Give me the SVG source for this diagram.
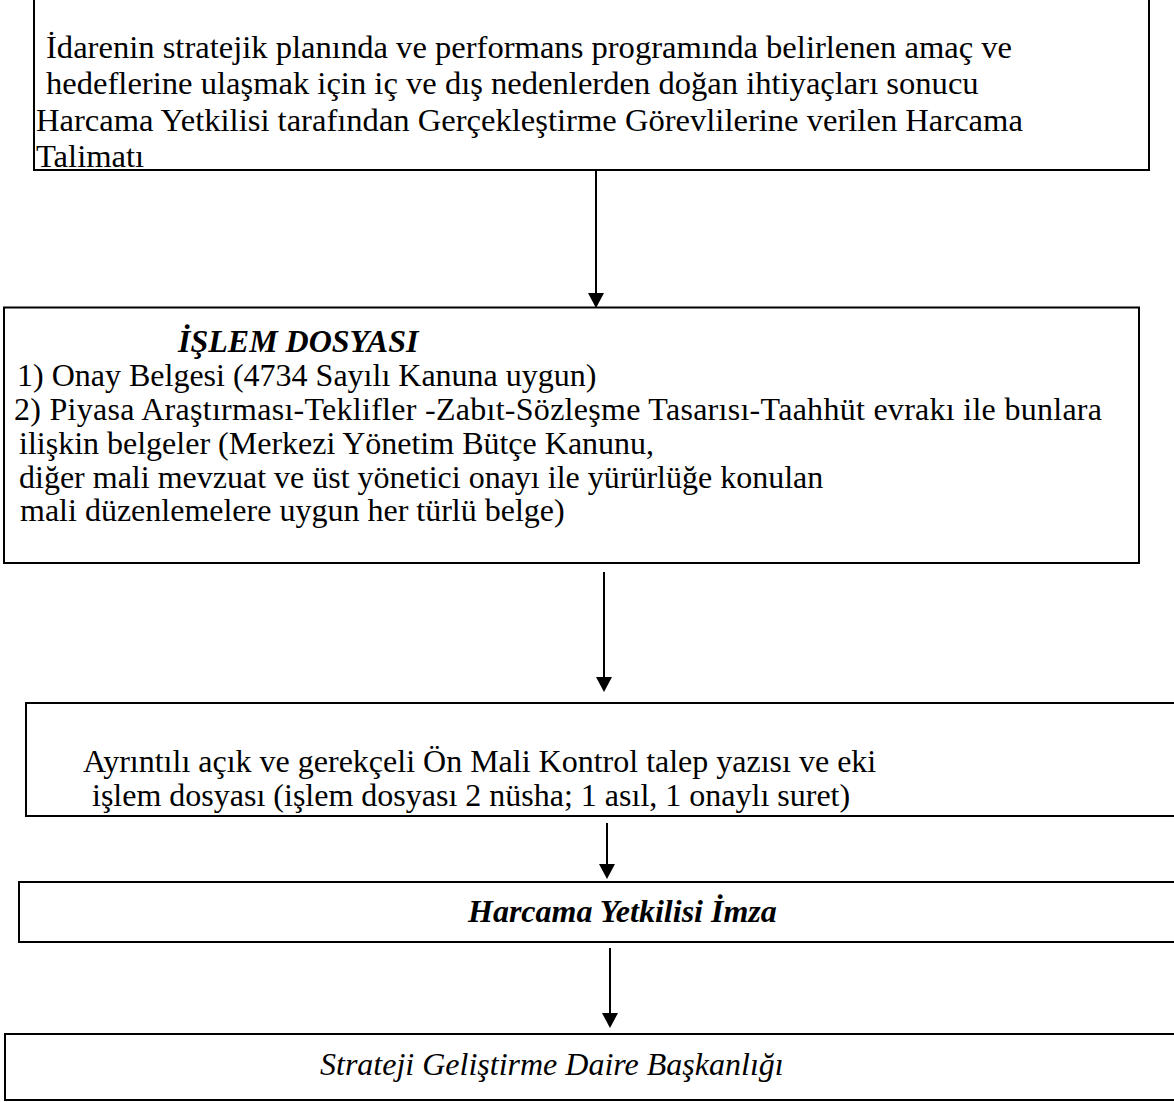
<svg xmlns="http://www.w3.org/2000/svg" width="1174" height="1102" viewBox="0 0 1174 1102">
<style>
.box{fill:#fff;stroke:#000;stroke-width:2}
.t{font-family:"Liberation Serif","Times New Roman",serif;font-size:32px;fill:#000}
.l{font-size:32.6px}
.bi{font-weight:bold;font-style:italic}
.i{font-style:italic}
.c{stroke:#000;stroke-width:2;fill:none}
</style>
<defs>
<marker id="ah" markerUnits="userSpaceOnUse" viewBox="0 0 15 16" markerWidth="15" markerHeight="16" refX="1" refY="8" orient="auto">
<path d="M0,0 L15,8 L0,16 z" fill="#000"/>
</marker>
</defs>
<rect width="1174" height="1102" fill="#fff"/>
<g id="n1">
<rect class="box" x="34" y="-5" width="1115" height="175"/>
<text class="t l" x="46" y="58">İdarenin stratejik planında ve performans programında belirlenen amaç ve</text>
<text class="t l" x="46" y="94">hedeflerine ulaşmak için iç ve dış nedenlerden doğan ihtiyaçları sonucu</text>
<text class="t l" x="36" y="131">Harcama Yetkilisi tarafından Gerçekleştirme Görevlilerine verilen Harcama</text>
<text class="t l" x="36" y="167">Talimatı</text>
</g>
<g id="n2">
<rect class="box" x="4" y="307.5" width="1135" height="255.5"/>
<text class="t bi" x="178" y="352">İŞLEM DOSYASI</text>
<text class="t" x="17" y="386">1) Onay Belgesi (4734 Sayılı Kanuna uygun)</text>
<text class="t" x="14" y="420" textLength="1088" lengthAdjust="spacing">2) Piyasa Araştırması-Teklifler -Zabıt-Sözleşme Tasarısı-Taahhüt evrakı ile bunlara</text>
<text class="t" x="19" y="454">ilişkin belgeler (Merkezi Yönetim Bütçe Kanunu,</text>
<text class="t" x="19" y="488">diğer mali mevzuat ve üst yönetici onayı ile yürürlüğe konulan</text>
<text class="t" x="20" y="521">mali düzenlemelere uygun her türlü belge)</text>
</g>
<g id="n3">
<rect class="box" x="26" y="703" width="1160" height="113"/>
<text class="t" x="83" y="772">Ayrıntılı açık ve gerekçeli Ön Mali Kontrol talep yazısı ve eki</text>
<text class="t" x="92" y="806">işlem dosyası (işlem dosyası 2 nüsha; 1 asıl, 1 onaylı suret)</text>
</g>
<g id="n4">
<rect class="box" x="19" y="882" width="1170" height="60"/>
<text class="t bi" x="468" y="922">Harcama Yetkilisi İmza</text>
</g>
<g id="n5">
<rect class="box" x="5" y="1034" width="1180" height="66"/>
<text class="t i" x="320" y="1075">Strateji Geliştirme Daire Başkanlığı</text>
</g>
<g id="connectors">
<line class="c" x1="596" y1="170" x2="596" y2="294" marker-end="url(#ah)"/>
<line class="c" x1="604" y1="572" x2="604" y2="678" marker-end="url(#ah)"/>
<line class="c" x1="607" y1="823" x2="607" y2="865" marker-end="url(#ah)"/>
<line class="c" x1="610" y1="948" x2="610" y2="1014" marker-end="url(#ah)"/>
</g>
</svg>
